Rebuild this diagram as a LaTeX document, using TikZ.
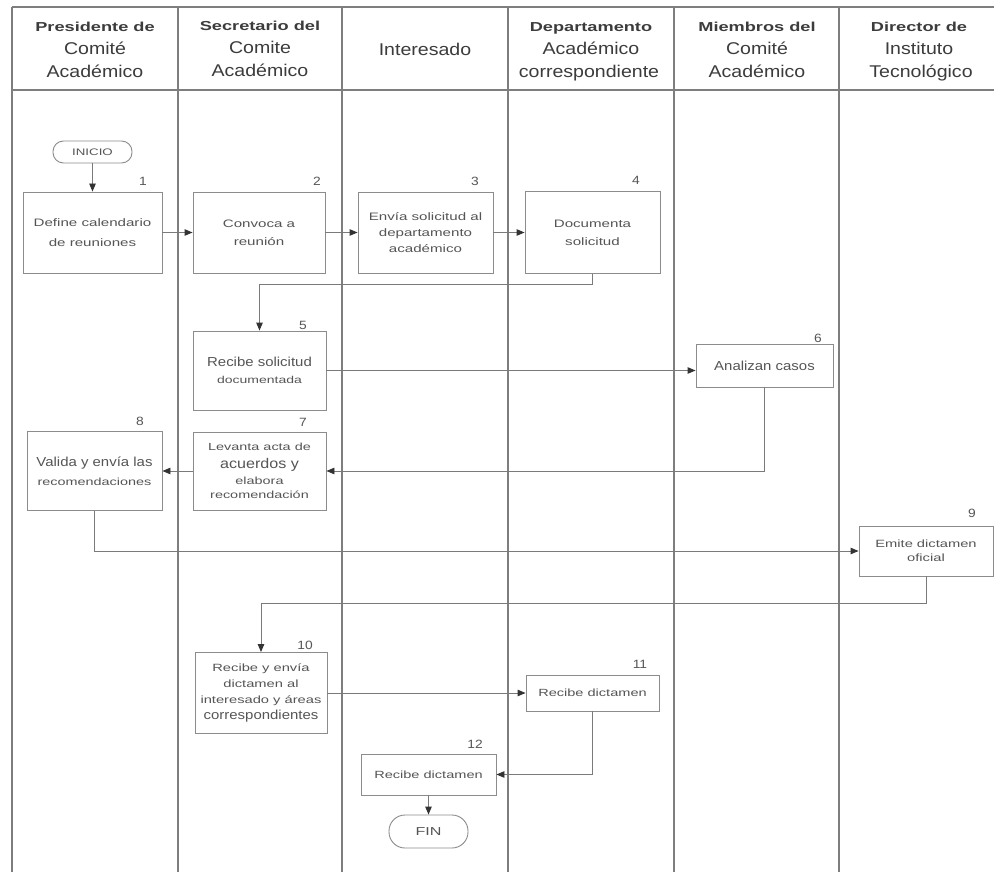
\documentclass[tikz,border=0pt]{standalone}
\usepackage{fontspec}
\setmainfont{Liberation Sans}
\newfontfamily\fsm{Liberation Sans}[FakeStretch=1.4]
\newfontfamily\fbg{Liberation Sans}[FakeStretch=1.15]
\newfontfamily\fhd{Liberation Sans}[FakeStretch=1.4]
\usetikzlibrary{arrows.meta,shapes.misc}
\definecolor{lanegray}{HTML}{7E7E7E}
\definecolor{boxgray}{HTML}{8C8C8C}
\definecolor{arrowgray}{HTML}{7A7A7A}
\definecolor{headgray}{HTML}{333333}
\definecolor{txtgray}{HTML}{555555}
\definecolor{hdgray}{HTML}{3C3C3C}
\tikzset{
  lane/.style={draw=lanegray, line width=1.1pt},
  box/.style={draw=boxgray, line width=0.9pt, fill=white, align=center, text=txtgray, inner sep=1pt,
    font=\fsm\fontsize{10.8}{16}\selectfont},
  term/.style={draw=boxgray, line width=0.9pt, fill=white, rectangle, text=txtgray, inner sep=1pt,
    minimum width=79pt},
  arr/.style={draw=arrowgray, line width=0.9pt, -{Triangle[length=8pt,width=6.5pt,color=headgray]}},
  num/.style={font=\fbg\fontsize{12}{12}\selectfont, text=txtgray, inner sep=0pt},
  hsm/.style={font=\fhd\bfseries\fontsize{13}{13}\selectfont, text=hdgray, anchor=base, inner sep=0pt},
  hbg/.style={font=\fbg\fontsize{17}{17}\selectfont, text=hdgray, anchor=base, inner sep=0pt},
}
\newcommand{\bigt}[1]{{\fbg\fontsize{13}{13}\selectfont #1}}
\begin{document}
\begin{tikzpicture}[x=1pt,y=-1pt]
\fill[white] (0,0) rectangle (994,872);
\useasboundingbox (0,0) rectangle (994,872);
% lanes
\draw[lane] (12,7) -- (994,7);
\draw[lane] (12,90) -- (994,90);
\foreach \xx in {12,178,342,508,674,839} \draw[lane] (\xx,7) -- (\xx,872);
% headers
\node[hsm] (h1a) at (95,32) {Presidente de};
\node[hbg] (h1b) at (95,55) {Comité};
\node[hbg] (h1c) at (95,78) {Académico};
\node[hsm] (h2a) at (260,31) {Secretario del};
\node[hbg] (h2b) at (260,54) {Comite};
\node[hbg] (h2c) at (260,77) {Académico};
\node[hbg] (h3) at (425,56) {Interesado};
\node[hsm] (h4a) at (591,32) {Departamento};
\node[hbg] (h4b) at (591,55) {Académico};
\node[hbg] (h4c) at (589,78) {correspondiente};
\node[hsm] (h5a) at (757,32) {Miembros del};
\node[hbg] (h5b) at (757,55) {Comité};
\node[hbg] (h5c) at (757,78) {Académico};
\node[hsm] (h6a) at (919,32) {Director de};
\node[hbg] (h6b) at (919,55) {Instituto};
\node[hbg] (h6c) at (921,78) {Tecnológico};
% terminators
\node[term, rounded corners=10.5pt, minimum height=22pt, font=\fsm\fontsize{9.5}{10}\selectfont] (inicio) at (92.5,152) {INICIO};
\node[term, rounded corners=16pt, minimum height=33pt, font=\fsm\fontsize{11.5}{12}\selectfont] (fin) at (428.5,831.5) {FIN};
% boxes
\node[box, minimum width=139pt, minimum height=81pt, font=\fsm\fontsize{10.8}{20}\selectfont] (b1) at (92.5,232.5) {Define calendario\\de reuniones};
\node[box, minimum width=132pt, minimum height=81pt, font=\fsm\fontsize{10.8}{18}\selectfont] (b2) at (259,232.5) {Convoca a\\reunión};
\node[box, minimum width=135pt, minimum height=81pt] (b3) at (425.5,232.5) {Envía solicitud al\\departamento\\académico};
\node[box, minimum width=135pt, minimum height=82pt, font=\fsm\fontsize{10.8}{18}\selectfont] (b4) at (592.5,232.5) {Documenta\\solicitud};
\node[box, minimum width=133pt, minimum height=79pt, font=\fsm\fontsize{10}{17}\selectfont] (b5) at (259.5,370.5) {\bigt{Recibe solicitud}\\documentada};
\node[box, minimum width=137pt, minimum height=43pt] (b6) at (764.5,365.5) {\bigt{Analizan casos}};
\node[box, minimum width=133pt, minimum height=78pt, font=\fsm\fontsize{10.3}{17}\selectfont] (b7) at (259.5,471) {Levanta acta de\\[1pt]{\fbg\fontsize{14}{14}\selectfont acuerdos y}\\[-1pt]elabora\\[-3pt]recomendación};
\node[box, minimum width=135pt, minimum height=79pt, font=\fsm\fontsize{10.3}{19}\selectfont] (b8) at (94.5,471) {\bigt{Valida y envía las}\\recomendaciones};
\node[box, minimum width=134pt, minimum height=50pt, font=\fsm\fontsize{10.5}{14}\selectfont] (b9) at (926,551) {Emite dictamen\\oficial};
\node[box, minimum width=132pt, minimum height=81pt, font=\fsm\fontsize{10.5}{16}\selectfont] (b10) at (261,693) {Recibe y envía\\dictamen al\\interesado y áreas\\\bigt{correspondientes}};
\node[box, minimum width=133pt, minimum height=36pt, font=\fsm\fontsize{10.4}{12}\selectfont] (b11) at (592.5,693) {Recibe dictamen};
\node[box, minimum width=135pt, minimum height=41pt, font=\fsm\fontsize{10.4}{12}\selectfont] (b12) at (428.5,774.5) {Recibe dictamen};
% numbers
\node[num] (n1) at (143,181) {1};
\node[num] (n2) at (317,181) {2};
\node[num] (n3) at (475,181) {3};
\node[num] (n4) at (636,180) {4};
\node[num] (n5) at (303,325) {5};
\node[num] (n6) at (818,338) {6};
\node[num] (n7) at (303,422) {7};
\node[num] (n8) at (140,421) {8};
\node[num] (n9) at (972,513) {9};
\node[num] (n10) at (305,645) {10};
\node[num] (n11) at (640,664) {11};
\node[num] (n12) at (475,744) {12};
% connectors
\coordinate (k1) at (420,284);
\coordinate (k4) at (600,603);
\draw[arr] (inicio.south) -- (b1.north);
\draw[arr] (b1.east) -- (b2.west);
\draw[arr] (b2.east) -- (b3.west);
\draw[arr] (b3.east) -- (b4.west);
\draw[arr] (b4.south) |- (b5.north |- k1) -- (b5.north);
\draw[arr] (b5.east) -- (b5.east -| b6.west);
\draw[arr] (b6.south) |- (b7.east);
\draw[arr] (b7.west) -- (b7.west -| b8.east);
\draw[arr] (b8.south) |- (b9.west);
\draw[arr] (b9.south) |- (b10.north |- k4) -- (b10.north);
\draw[arr] (b10.east) -- (b10.east -| b11.west);
\draw[arr] (b11.south) |- (b12.east);
\draw[arr] (b12.south) -- (fin.north);
\end{tikzpicture}
\end{document}
